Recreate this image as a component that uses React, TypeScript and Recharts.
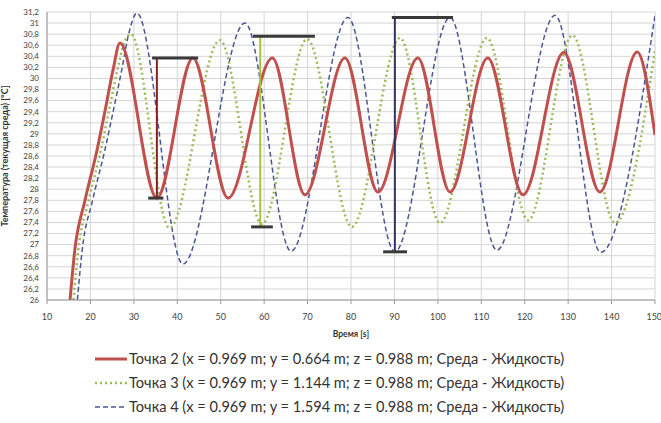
import * as React from 'react';
import { LineChart, Line, XAxis, YAxis, CartesianGrid, ReferenceLine, Label } from 'recharts';

// time [s] / temperature [°C]
const point2 = [
  { t: 15.3, v: 26.0 }, { t: 16.4, v: 26.9 }, { t: 18.75, v: 27.8 }, { t: 21.5, v: 28.7 },
  { t: 23.4, v: 29.43 }, { t: 25.2, v: 30.15 }, { t: 26.8, v: 30.64 }, { t: 35.3, v: 27.84 },
  { t: 43.6, v: 30.37 }, { t: 51.7, v: 27.84 }, { t: 61.9, v: 30.37 }, { t: 69.4, v: 27.9 },
  { t: 78.6, v: 30.37 }, { t: 86.2, v: 27.95 }, { t: 95.4, v: 30.37 }, { t: 102.8, v: 27.95 },
  { t: 111.5, v: 30.37 }, { t: 119.6, v: 27.9 }, { t: 129.0, v: 30.47 }, { t: 137.3, v: 27.95 },
  { t: 145.9, v: 30.48 }, { t: 150.0, v: 28.98 },
];

const point3 = [
  { t: 16.1, v: 26.0 }, { t: 17.2, v: 26.9 }, { t: 19.6, v: 27.8 }, { t: 22.4, v: 28.7 },
  { t: 24.3, v: 29.43 }, { t: 26.2, v: 30.15 }, { t: 27.6, v: 30.6 }, { t: 29.3, v: 30.8 },
  { t: 38.2, v: 27.3 }, { t: 49.8, v: 30.69 }, { t: 59.5, v: 27.37 }, { t: 69.9, v: 30.71 },
  { t: 80.2, v: 27.32 }, { t: 91.3, v: 30.73 }, { t: 100.5, v: 27.39 }, { t: 111.3, v: 30.73 },
  { t: 120.8, v: 27.44 }, { t: 131.0, v: 30.78 }, { t: 140.8, v: 27.39 }, { t: 150.0, v: 30.5 },
];

const point4 = [
  { t: 17.0, v: 26.0 }, { t: 18.1, v: 26.9 }, { t: 20.5, v: 27.8 }, { t: 23.3, v: 28.7 },
  { t: 25.3, v: 29.43 }, { t: 27.2, v: 30.15 }, { t: 28.8, v: 30.8 }, { t: 30.7, v: 31.18 },
  { t: 41.3, v: 26.65 }, { t: 55.6, v: 31.0 }, { t: 66.2, v: 26.88 }, { t: 79.3, v: 31.1 },
  { t: 90.1, v: 26.87 }, { t: 102.8, v: 31.1 }, { t: 113.6, v: 26.9 }, { t: 127.0, v: 31.14 },
  { t: 137.5, v: 26.86 }, { t: 150.0, v: 31.14 },
];

// amplitude brackets: vertical span at t, top bar and bottom bar extents
const bracket2 = { t: 35.3, lo: 27.84, hi: 30.37, top: [34.2, 44.8], bottom: [33.3, 36.8] };
const bracket3 = { t: 59.1, lo: 27.32, hi: 30.76, top: [57.4, 71.7], bottom: [57.0, 62.0] };
const bracket4 = { t: 90.1, lo: 26.87, hi: 31.1, top: [89.4, 103.5], bottom: [87.4, 92.9] };

const xTicks = [10, 20, 30, 40, 50, 60, 70, 80, 90, 100, 110, 120, 130, 140, 150];
const yTicks = [
  26, 26.2, 26.4, 26.6, 26.8, 27, 27.2, 27.4, 27.6, 27.8, 28, 28.2, 28.4, 28.6,
  28.8, 29, 29.2, 29.4, 29.6, 29.8, 30, 30.2, 30.4, 30.6, 30.8, 31, 31.2,
];

const seriesNames = [
  'Точка 2 (x = 0.969 m; y = 0.664 m; z = 0.988 m; Среда - Жидкость)',
  'Точка 3 (x = 0.969 m; y = 1.144 m; z = 0.988 m; Среда - Жидкость)',
  'Точка 4 (x = 0.969 m; y = 1.594 m; z = 0.988 m; Среда - Жидкость)',
];

const RED = '#c0504d';
const GREEN = '#9bbb59';
const BLUE = '#4a5694';
const BAR = '#3a3a3a';

const legendStyles = [
  { stroke: RED, width: 3, dash: undefined as string | undefined },
  { stroke: GREEN, width: 2.5, dash: '2 3' },
  { stroke: BLUE, width: 1.5, dash: '5 3' },
];

const fmt = (v: number) => String(Math.round(v * 10) / 10).replace('.', ',');

export default function App() {
  const brackets = [
    { b: bracket2, color: '#8b1f1f' },
    { b: bracket3, color: '#a6c43a' },
    { b: bracket4, color: '#2f3560' },
  ];
  return (
    <div style={{ position: 'absolute', left: 0, top: 0, width: 661, height: 423, background: '#fff', fontFamily: 'Lato, "Open Sans", sans-serif' }}>
      <LineChart width={661} height={345} margin={{ top: 12, right: 6, bottom: 9, left: 0 }}>
        <CartesianGrid stroke="#d4d4d4" strokeWidth={1} horizontalValues={yTicks} verticalValues={xTicks} />
        <XAxis
          type="number"
          dataKey="t"
          domain={[10, 150]}
          ticks={xTicks}
          allowDataOverflow
          stroke="#999"
          tickSize={4}
          tickMargin={10}
          tick={{ fontSize: 9, fill: '#444' }}
          height={36}
        >
          <Label value="Время [s]" position="insideBottom" offset={-1} style={{ fontSize: 8.5, fontWeight: 700, fill: '#333' }} />
        </XAxis>
        <YAxis
          type="number"
          domain={[26, 31.2]}
          ticks={yTicks}
          allowDataOverflow
          interval={0}
          width={47}
          stroke="#999"
          tickLine={false}
          tickFormatter={fmt}
          tick={{ fontSize: 8, fill: '#444' }}
        >
          <Label
            value="Температура (текущая среда) [°C]"
            angle={-90}
            position="insideLeft"
            offset={5}
            style={{ textAnchor: 'middle', fontSize: 9, fontWeight: 700, fill: '#333' }}
          />
        </YAxis>
        <Line data={point4} dataKey="v" type="monotone" stroke={BLUE} strokeWidth={1.5} strokeDasharray="5 3" dot={false} isAnimationActive={false} />
        <Line data={point3} dataKey="v" type="monotone" stroke={GREEN} strokeWidth={2.5} strokeDasharray="2 3" dot={false} isAnimationActive={false} />
        <Line data={point2} dataKey="v" type="monotone" stroke={RED} strokeWidth={3} dot={false} isAnimationActive={false} />
        {brackets.map(({ b, color }, i) => (
          <ReferenceLine key={'v' + i} segment={[{ x: b.t, y: b.lo }, { x: b.t, y: b.hi }]} stroke={color} strokeWidth={2} />
        ))}
        {brackets.map(({ b }, i) => (
          <ReferenceLine key={'t' + i} segment={[{ x: b.top[0], y: b.hi }, { x: b.top[1], y: b.hi }]} stroke={BAR} strokeWidth={3} />
        ))}
        {brackets.map(({ b }, i) => (
          <ReferenceLine key={'b' + i} segment={[{ x: b.bottom[0], y: b.lo }, { x: b.bottom[1], y: b.lo }]} stroke={BAR} strokeWidth={3} />
        ))}
      </LineChart>
      <div style={{ position: 'absolute', left: 95, top: 347, fontSize: 14.6, color: '#333', lineHeight: '24px' }}>
        {seriesNames.map((name, i) => (
          <div key={name} style={{ display: 'flex', alignItems: 'center', whiteSpace: 'nowrap' }}>
            <svg width={32} height={10} style={{ marginRight: 2 }}>
              <line x1={0} y1={5} x2={32} y2={5} stroke={legendStyles[i].stroke} strokeWidth={legendStyles[i].width} strokeDasharray={legendStyles[i].dash} />
            </svg>
            <span>{name}</span>
          </div>
        ))}
      </div>
    </div>
  );
}
